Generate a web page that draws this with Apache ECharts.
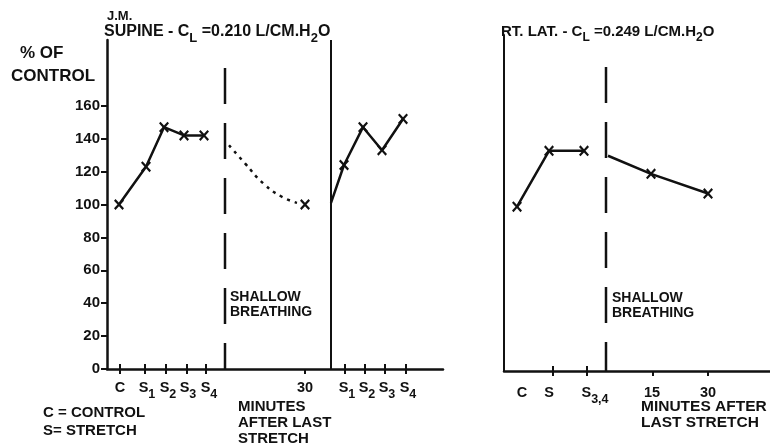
<!DOCTYPE html>
<html><head><meta charset="utf-8">
<script src="https://cdn.jsdelivr.net/npm/echarts@6/dist/echarts.min.js"></script>
<style>html,body{margin:0;padding:0;background:#fff}#c{width:770px;height:447px}</style>
</head><body><div id="c"></div>
<script>
// ---------- Left panel (J.M. supine) ----------
const leftTickLabels = ['C','S1','S2','S3','S4','30','S1','S2','S3','S4'];
const leftLabelPos   = [0.65,2.0,3.05,4.05,5.1,9.9,12.0,13.0,14.0,15.05];
const leftTickPos    = [0.65,1.9,2.95,4.0,4.95,9.9,11.9,12.9,13.9,14.95];
const leftCrossTickPos = [0.65,1.9,2.95,4.0,4.95,11.9,12.9,13.9,14.95];
const supineStretch1 = [[0.6,100],[1.95,123],[2.85,147],[3.85,142],[4.85,142]];
const supineRecoveryCurve = [[6.1,136],[6.9,125],[7.8,113],[8.7,105],[9.5,101]];
const supine30 = [[9.9,100]];
const supineStretch2Start = [11.2,101];
const supineStretch2 = [[11.85,124],[12.8,147],[13.75,133],[14.8,152]];
const yTickValues = [0,20,40,60,80,100,120,140,160];
const leftDashX = 5.9, leftDashTop = 183;
const leftSolidX = 11.2, leftSolidTop = 200;

// ---------- Right panel (RT. LAT.) ----------
const rightTickLabels = ['C','S','S3,4','15','30'];
const rightLabelPos   = [0.9,2.25,4.55,7.4,10.2];
const rightTickPos    = [2.45,4.15,7.45,10.2];
const rightCrossTickPos = [2.45,4.15];
const rtlatStretch  = [[0.65,100],[2.25,134],[4.0,134]];
const rtlatRecoveryStart = [5.2,131];
const rtlatRecovery = [[7.35,120],[10.2,108]];
const rightDashX = 5.1, rightDashTop = 185;

const INK = '#111';
const FONT = 'Liberation Sans';
const X_SYMBOL = 'path://M0,1.5L1.5,0L5,3.5L8.5,0L10,1.5L6.5,5L10,8.5L8.5,10L5,6.5L1.5,10L0,8.5L3.5,5Z';
const LEFT_H = 329, RIGHT_H = 336;

function richLabel(lbl){
  if (lbl == null) return '';
  const m = String(lbl).match(/^([A-Z])([\d,]+)$/);
  if (m) return '{m|' + m[1] + '}{s|' + m[2] + '}';
  return '{m|' + lbl + '}';
}
function lookup(pos, labels, v){
  let best = -1, bd = 1e9;
  for (let i = 0; i < pos.length; i++){ const d = Math.abs(pos[i] - v); if (d < bd){ bd = d; best = i; } }
  return bd < 0.02 ? labels[best] : '';
}
const labelRich = {
  m:{fontFamily:FONT,fontWeight:'bold',fontSize:14.5,lineHeight:16,verticalAlign:'top',color:INK},
  s:{fontFamily:FONT,fontWeight:'bold',fontSize:12.5,lineHeight:12,padding:[8,0,0,0],verticalAlign:'top',color:INK}
};
function gRich(size, sub){
  return {
    m:{fontFamily:FONT,fontWeight:'bold',fontSize:size,lineHeight:size+2,verticalAlign:'top',fill:INK},
    s:{fontFamily:FONT,fontWeight:'bold',fontSize:sub,lineHeight:sub,padding:[8,0,0,0],verticalAlign:'top',fill:INK}
  };
}

function mainX(grid, max, tickPos, labelPos, labels, margin){
  return {
    type:'value', gridIndex:grid, min:0, max:max, position:'bottom',
    splitLine:{show:false},
    axisLine:{show:true, onZero:false, lineStyle:{color:INK,width:2.5}},
    axisTick:{show:true, customValues:tickPos, length:5, lineStyle:{color:INK,width:2}},
    axisLabel:{show:true, customValues:labelPos, margin:margin,
      formatter:function(v){ return richLabel(lookup(labelPos, labels, v)); }, rich:labelRich}
  };
}
// upward half of the crossing ticks: a top axis shifted down onto the baseline
function crossX(grid, max, tickPos, h){
  return {
    type:'value', gridIndex:grid, min:0, max:max, position:'top', offset:-h,
    splitLine:{show:false},
    axisLine:{show:false, onZero:false},
    axisTick:{show:true, customValues:tickPos, length:5, lineStyle:{color:INK,width:2}},
    axisLabel:{show:false}
  };
}
function vline(xi, yi, x, top, dashed, w){
  return {type:'line', xAxisIndex:xi, yAxisIndex:yi, data:[[x,top],[x,0]], symbol:'none', silent:true,
    lineStyle:{color:INK, width:w, type: dashed ? [36,19] : 'solid'}, z:1};
}
function xline(xi, yi, data, start){
  const d = start ? [{value:start, symbol:'none'}].concat(data) : data;
  return {type:'line', xAxisIndex:xi, yAxisIndex:yi, data:d, symbol:X_SYMBOL, symbolSize:[10,11],
    itemStyle:{color:INK}, lineStyle:{color:INK,width:2.5}, z:3};
}

const chart = echarts.init(document.getElementById('c'), null, {renderer:'canvas'});
chart.setOption({
  backgroundColor:'#fff',
  animation:false,
  grid:[
    {left:107, top:40, width:336, height:LEFT_H},
    {left:504, top:35, right:0, height:RIGHT_H}
  ],
  xAxis:[
    mainX(0, 16.8, leftTickPos, leftLabelPos, leftTickLabels, 11),
    crossX(0, 16.8, leftCrossTickPos, LEFT_H),
    mainX(1, 13.3, rightTickPos, rightLabelPos, rightTickLabels, 14),
    crossX(1, 13.3, rightCrossTickPos, RIGHT_H)
  ],
  yAxis:[
    {type:'value', gridIndex:0, min:0, max:200, splitLine:{show:false},
     axisLine:{show:true, onZero:false, lineStyle:{color:INK,width:2.5}},
     axisTick:{show:true, customValues:yTickValues, length:6, lineStyle:{color:INK,width:2}},
     axisLabel:{show:true, customValues:yTickValues, margin:7, color:INK,
       fontFamily:FONT, fontWeight:'bold', fontSize:15}},
    {type:'value', gridIndex:1, min:0, max:204.5, splitLine:{show:false},
     axisLine:{show:true, onZero:false, lineStyle:{color:INK,width:2}},
     axisTick:{show:false}, axisLabel:{show:false}}
  ],
  series:[
    vline(0,0,leftDashX,leftDashTop,true,2.5),
    vline(0,0,leftSolidX,leftSolidTop,false,2),
    xline(0,0,supineStretch1),
    {type:'line', xAxisIndex:0, yAxisIndex:0, data:supineRecoveryCurve, smooth:true, symbol:'none',
     lineStyle:{color:INK,width:2.5,type:[3,5]}, z:2},
    xline(0,0,supine30),
    xline(0,0,supineStretch2,supineStretch2Start),
    vline(2,1,rightDashX,rightDashTop,true,2.5),
    xline(2,1,rtlatStretch),
    xline(2,1,rtlatRecovery,rtlatRecoveryStart)
  ],
  graphic:[
    {type:'text', style:{x:107,y:10,text:'J.M.',font:'bold 13px "'+FONT+'"',fill:INK}},
    {type:'text', style:{x:104,y:24,text:'{m|SUPINE - C}{s|L}{m| =0.210 L/CM.H}{s|2}{m|O}',rich:gRich(16,13),fill:INK}},
    {type:'text', style:{x:20,y:45,text:'% OF',font:'bold 17px "'+FONT+'"',fill:INK}},
    {type:'text', style:{x:11,y:68,text:'CONTROL',font:'bold 17px "'+FONT+'"',fill:INK}},
    {type:'text', style:{x:43,y:405,text:'C = CONTROL',font:'bold 15px "'+FONT+'"',fill:INK}},
    {type:'text', style:{x:43,y:423,text:'S= STRETCH',font:'bold 15px "'+FONT+'"',fill:INK}},
    {type:'text', style:{x:238,y:399,text:'MINUTES\nAFTER LAST\nSTRETCH',font:'bold 15px "'+FONT+'"',lineHeight:16,fill:INK}},
    {type:'text', style:{x:230,y:290,text:'SHALLOW\nBREATHING',font:'bold 14px "'+FONT+'"',lineHeight:15,fill:INK}},
    {type:'text', style:{x:501,y:24,text:'{m|RT. LAT. - C}{s|L}{m| =0.249 L/CM.H}{s|2}{m|O}',rich:gRich(15,12),fill:INK}},
    {type:'text', style:{x:612,y:291,text:'SHALLOW\nBREATHING',font:'bold 14px "'+FONT+'"',lineHeight:15,fill:INK}},
    {type:'text', style:{x:641,y:399,text:'MINUTES AFTER\nLAST STRETCH',font:'bold 15.5px "'+FONT+'"',lineHeight:15.5,fill:INK}}
  ]
});
</script></body></html>
